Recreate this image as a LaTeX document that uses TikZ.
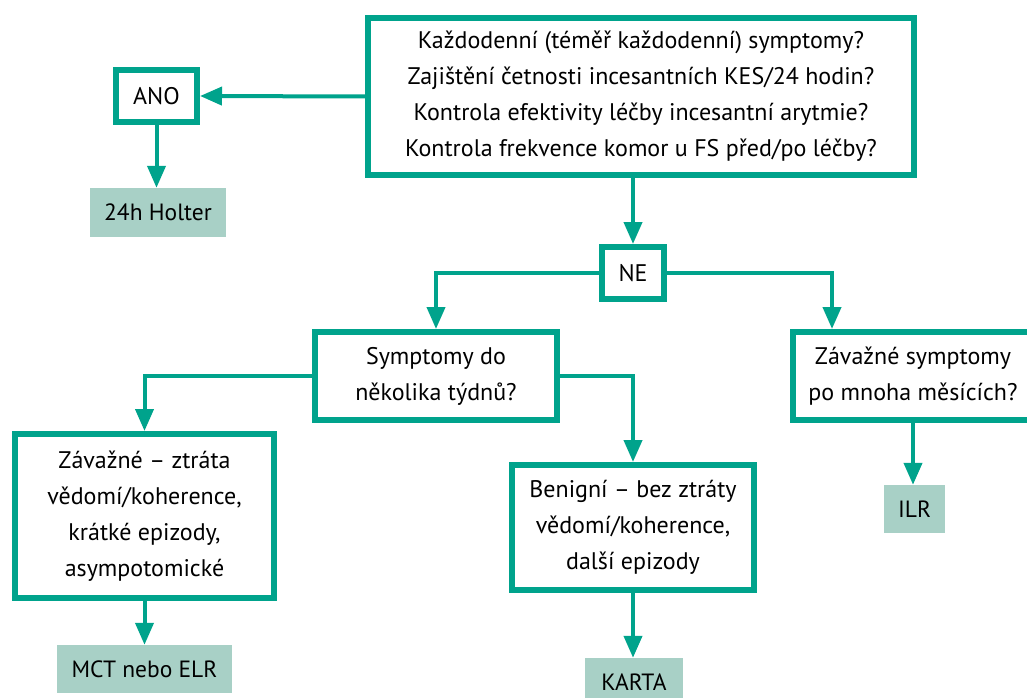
\documentclass[tikz,border=0pt]{standalone}
\usepackage{fontspec}
\setmainfont{PT Sans}
\usetikzlibrary{arrows.meta,calc}
\definecolor{teal1}{RGB}{0,163,140}
\definecolor{resfill}{RGB}{168,208,198}
\begin{document}
\begin{tikzpicture}[x=1pt,y=-1pt,
  qbox/.style={draw=teal1,line width=6pt,fill=white,inner sep=0pt,align=center,
    font=\fontsize{24}{36}\selectfont},
  resbox/.style={fill=resfill,inner sep=0pt,align=center,font=\fontsize{23.5}{36}\selectfont},
  arr/.style={draw=teal1,line width=4pt,-{Triangle[length=22pt,width=18pt]}},
  conn/.style={draw=teal1,line width=4pt}]
\useasboundingbox (0,0) rectangle (1027,698);
\node[qbox,minimum width=546pt,minimum height=157pt] (top) at (641,96.5)
  {Každodenní (téměř každodenní) symptomy?\\Zajištění četnosti incesantních KES/24 hodin?\\Kontrola efektivity léčby incesantní arytmie?\\Kontrola frekvence komor u FS před/po léčby?};
\node[qbox,minimum width=81pt,minimum height=52pt] (ano) at (156.5,96) {ANO};
\node[resbox,minimum width=136pt,minimum height=49pt] (holter) at (158,212.5) {24h Holter};
\node[qbox,minimum width=62pt,minimum height=52pt] (ne) at (633,273) {NE};
\node[qbox,minimum width=242pt,minimum height=88pt] (sym) at (436,376) {Symptomy do\\několika týdnů?};
\node[qbox,minimum width=240pt,minimum height=88pt] (rbox) at (913,376) {Závažné symptomy\\po mnoha měsících?};
\node[qbox,minimum width=259pt,minimum height=164pt] (lbox) at (144.5,516) {Závažné – ztráta\\vědomí/koherence,\\krátké epizody,\\asympotomické};
\node[qbox,minimum width=242pt,minimum height=125pt] (ben) at (633,527.5) {Benigní – bez ztráty\\vědomí/koherence,\\další epizody};
\node[resbox,minimum width=175pt,minimum height=48pt] (mct) at (144.5,669) {MCT nebo ELR};
\node[resbox,minimum width=98pt,minimum height=48pt] (karta) at (634,682) {KARTA};
\node[resbox,minimum width=61pt,minimum height=48pt] (ilr) at (914.5,509) {ILR};
\coordinate (rin) at ($(rbox.north west)+(42,0)$);
\draw[arr] (top.west) -- (ano.east);
\draw[arr] (ano.south) -- (ano.south |- holter.north);
\draw[arr] (ne.north |- top.south) -- (ne.north);
\draw[arr] (ne.west) -| (sym.north);
\draw[arr] (ne.east) -| (rin);
\draw[arr] (sym.west) -| (lbox.north);
\draw[arr] (sym.east) -| (ben.north);
\draw[arr] (rbox.south) -- (rbox.south |- ilr.north);
\draw[arr] (lbox.south) -- (mct.north);
\draw[arr] (ben.south) -- (ben.south |- karta.north);
\end{tikzpicture}
\end{document}
